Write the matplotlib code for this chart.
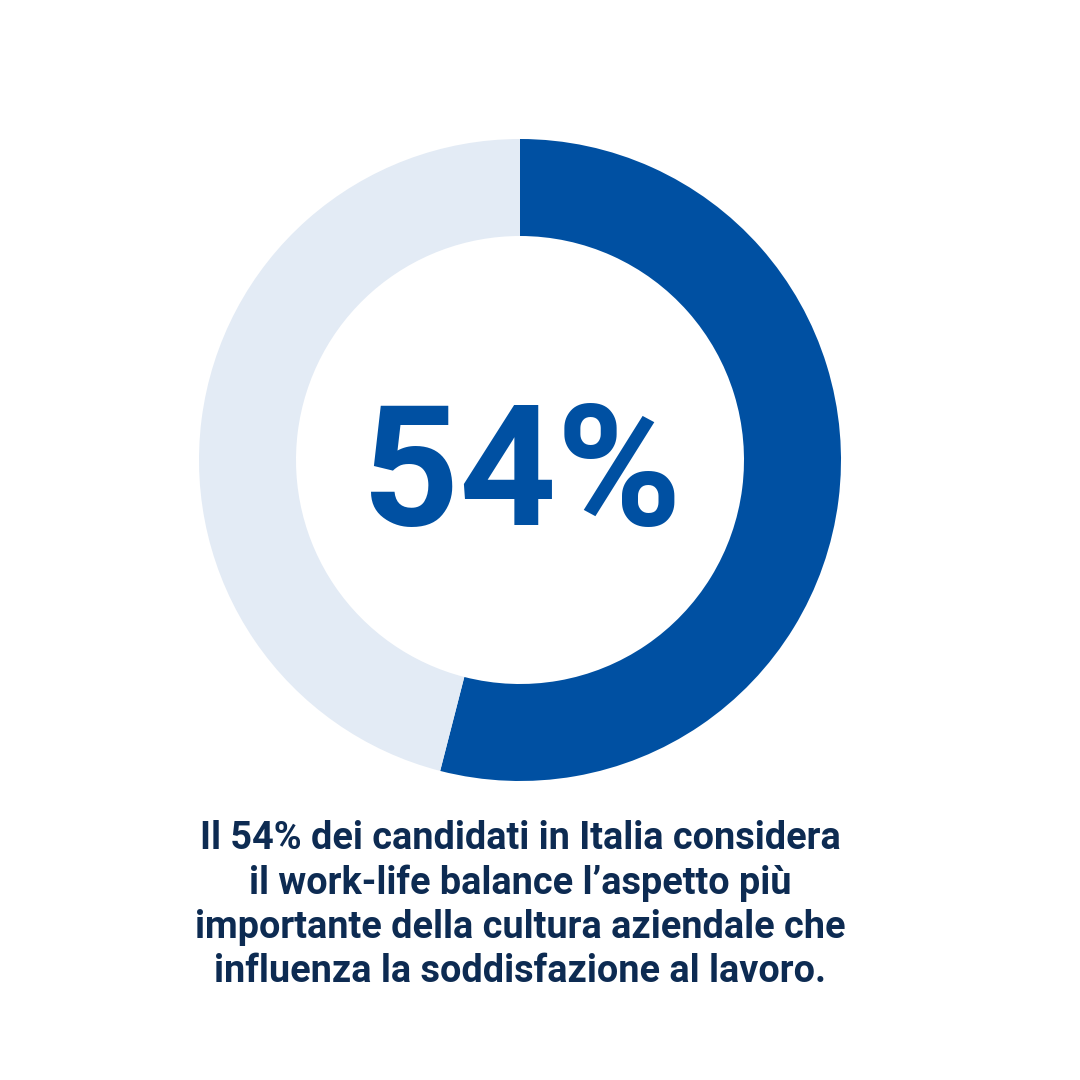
import matplotlib
matplotlib.use("Agg")
import matplotlib.pyplot as plt

# data
shares = [54, 46]
share_colors = ["#0050A2", "#E3EBF5"]
center_label = "54%"
caption_lines = [
    "Il 54% dei candidati in Italia considera",
    "il work-life balance l\u2019aspetto più",
    "importante della cultura aziendale che",
    "influenza la soddisfazione al lavoro.",
]

W = H = 1080
fig = plt.figure(figsize=(10.8, 10.8), dpi=100)
ax = fig.add_axes([0, 0, 1, 1])

cx, cy = 520, H - 460
r_out = 321
ring = 97

ax.pie(shares, colors=share_colors, startangle=90, counterclock=False,
       radius=r_out, center=(cx, cy), frame=True,
       wedgeprops=dict(width=ring, edgecolor="none", linewidth=0))
ax.set_xlim(0, W)
ax.set_ylim(0, H)
ax.set_aspect("equal")
ax.axis("off")

# big number, baseline at the bottom of the digits
ax.text(cx + 2, H - 525, center_label, ha="center", va="baseline",
        fontsize=122, fontweight="bold", family="Roboto", color="#0050A2")

baselines = [849, 894, 938, 982]
for line, yb in zip(caption_lines, baselines):
    ax.text(cx, H - yb, line, ha="center", va="baseline",
            fontsize=27.3, fontweight="bold", family="Roboto", color="#0D2B52")

fig.savefig("out.png", dpi=100, facecolor="white")
